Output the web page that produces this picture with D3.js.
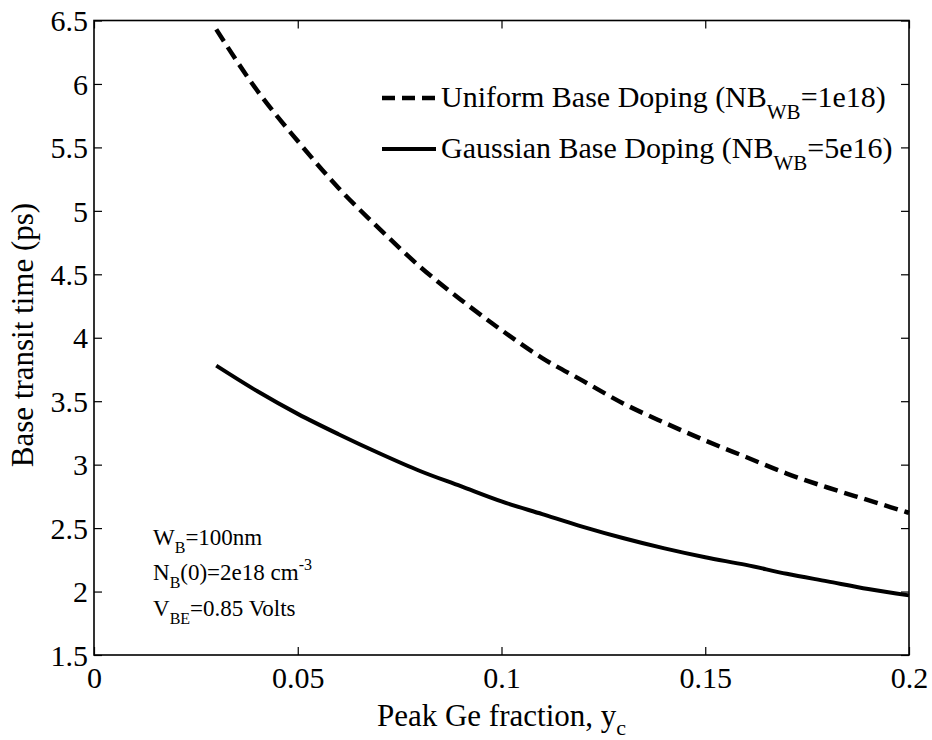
<!DOCTYPE html>
<html>
<head>
<meta charset="utf-8">
<script src="https://cdn.jsdelivr.net/npm/d3@7/dist/d3.min.js"></script>
<style>
  html, body { margin: 0; padding: 0; background: #fff; }
  svg { display: block; }
  svg text { font-family: "Liberation Serif", Tinos, "Times New Roman", "Nimbus Roman", "DejaVu Serif", serif !important; fill: #000; }
</style>
</head>
<body>
<svg id="chart" width="932" height="740"></svg>
<script>
// Peak Ge fraction (x) and base transit time in ps for both doping profiles
const geFraction = [0.03, 0.04, 0.05, 0.06, 0.07, 0.08, 0.09, 0.10, 0.11, 0.12,
                    0.13, 0.14, 0.15, 0.16, 0.17, 0.18, 0.19, 0.20];
const uniformTransit = [6.43, 5.95, 5.55, 5.18, 4.86, 4.56, 4.30, 4.06, 3.84, 3.66,
                        3.48, 3.33, 3.19, 3.06, 2.93, 2.82, 2.72, 2.62];
const gaussianTransit = [3.78, 3.58, 3.40, 3.24, 3.09, 2.95, 2.83, 2.71, 2.61, 2.51,
                         2.42, 2.34, 2.27, 2.21, 2.14, 2.08, 2.02, 1.97];

const xTicks = [0, 0.05, 0.1, 0.15, 0.2];
const yTicks = [1.5, 2, 2.5, 3, 3.5, 4, 4.5, 5, 5.5, 6, 6.5];

const svg = d3.select("#chart");
const plotL = 94, plotR = 909, plotT = 20.5, plotB = 655;

const x = d3.scaleLinear().domain([0, 0.2]).range([plotL, plotR]);
const y = d3.scaleLinear().domain([1.5, 6.5]).range([plotB, plotT]);

const tickFont = 30;
const tickLen = 8;

// Axes (ticks point inward, mirrored on top and right)
const fmt = d => String(d);
const gB = svg.append("g").attr("transform", `translate(0,${plotB})`)
  .call(d3.axisBottom(x).tickValues(xTicks).tickFormat(fmt).tickSizeInner(-tickLen).tickSizeOuter(0).tickPadding(12));
const gT = svg.append("g").attr("transform", `translate(0,${plotT})`)
  .call(d3.axisTop(x).tickValues(xTicks).tickFormat("").tickSizeInner(-tickLen).tickSizeOuter(0));
const gL = svg.append("g").attr("transform", `translate(${plotL},0)`)
  .call(d3.axisLeft(y).tickValues(yTicks).tickFormat(fmt).tickSizeInner(-tickLen).tickSizeOuter(0).tickPadding(6));
const gR = svg.append("g").attr("transform", `translate(${plotR},0)`)
  .call(d3.axisRight(y).tickValues(yTicks).tickFormat("").tickSizeInner(-tickLen).tickSizeOuter(0));

[gB, gT, gL, gR].forEach(g => {
  g.attr("font-family", null);
  g.select(".domain").remove();
  g.selectAll(".tick line").attr("stroke", "#000").attr("stroke-width", 1.2);
  g.selectAll(".tick text").attr("font-size", tickFont).attr("fill", "#000");
});
gB.selectAll(".tick text").attr("dy", "0.71em");
gL.selectAll(".tick text").attr("dy", "0.34em");

// Plot frame
svg.append("rect")
  .attr("x", plotL).attr("y", plotT)
  .attr("width", plotR - plotL).attr("height", plotB - plotT)
  .attr("fill", "none").attr("stroke", "#000").attr("stroke-width", 1.6);

// Curves
const line = d3.line().x(d => x(d[0])).y(d => y(d[1])).curve(d3.curveMonotoneX);
const uniformPts = geFraction.map((g, i) => [g, uniformTransit[i]]);
const gaussianPts = geFraction.map((g, i) => [g, gaussianTransit[i]]);

svg.append("path").datum(uniformPts).attr("d", line)
  .attr("fill", "none").attr("stroke", "#000").attr("stroke-width", 4.5)
  .attr("stroke-dasharray", "14,7");
svg.append("path").datum(gaussianPts).attr("d", line)
  .attr("fill", "none").attr("stroke", "#000").attr("stroke-width", 4);

// Legend
const legend = [
  { dash: "13,7", width: 4.5, label: "Uniform Base Doping (NB", sub: "WB", tail: "=1e18)", yPos: 98 },
  { dash: null, width: 4, label: "Gaussian Base Doping (NB", sub: "WB", tail: "=5e16)", yPos: 149 }
];
legend.forEach(l => {
  svg.append("line").attr("x1", 382).attr("x2", 436).attr("y1", l.yPos).attr("y2", l.yPos)
    .attr("stroke", "#000").attr("stroke-width", l.width)
    .attr("stroke-dasharray", l.dash);
  const t = svg.append("text").attr("x", 441).attr("y", l.yPos + 9).attr("font-size", 30);
  t.append("tspan").text(l.label);
  t.append("tspan").attr("font-size", 21).attr("dy", 12).text(l.sub);
  t.append("tspan").attr("dy", -12).text(l.tail);
});

// Device parameters annotation
const note = svg.append("g").attr("font-size", 23);
const n1 = note.append("text").attr("x", 153).attr("y", 545);
n1.append("tspan").text("W");
n1.append("tspan").attr("font-size", 16).attr("dy", 8).text("B");
n1.append("tspan").attr("dy", -8).text("=100nm");

const n2 = note.append("text").attr("x", 153).attr("y", 580);
n2.append("tspan").text("N");
n2.append("tspan").attr("font-size", 16).attr("dy", 8).text("B");
n2.append("tspan").attr("dy", -8).text("(0)=2e18 cm");
n2.append("tspan").attr("font-size", 16).attr("dy", -10).text("-3");

const n3 = note.append("text").attr("x", 153).attr("y", 616);
n3.append("tspan").text("V");
n3.append("tspan").attr("font-size", 16).attr("dy", 8).text("BE");
n3.append("tspan").attr("dy", -8).text("=0.85 Volts");

// Axis titles
const xt = svg.append("text").attr("x", (plotL + plotR) / 2).attr("y", 726)
  .attr("text-anchor", "middle").attr("font-size", 31);
xt.append("tspan").text("Peak Ge fraction, y");
xt.append("tspan").attr("font-size", 22).attr("dy", 9).text("c");

svg.append("text")
  .attr("transform", `translate(33,335) rotate(-90)`)
  .attr("text-anchor", "middle").attr("font-size", 31)
  .text("Base transit time (ps)");
</script>
</body>
</html>
